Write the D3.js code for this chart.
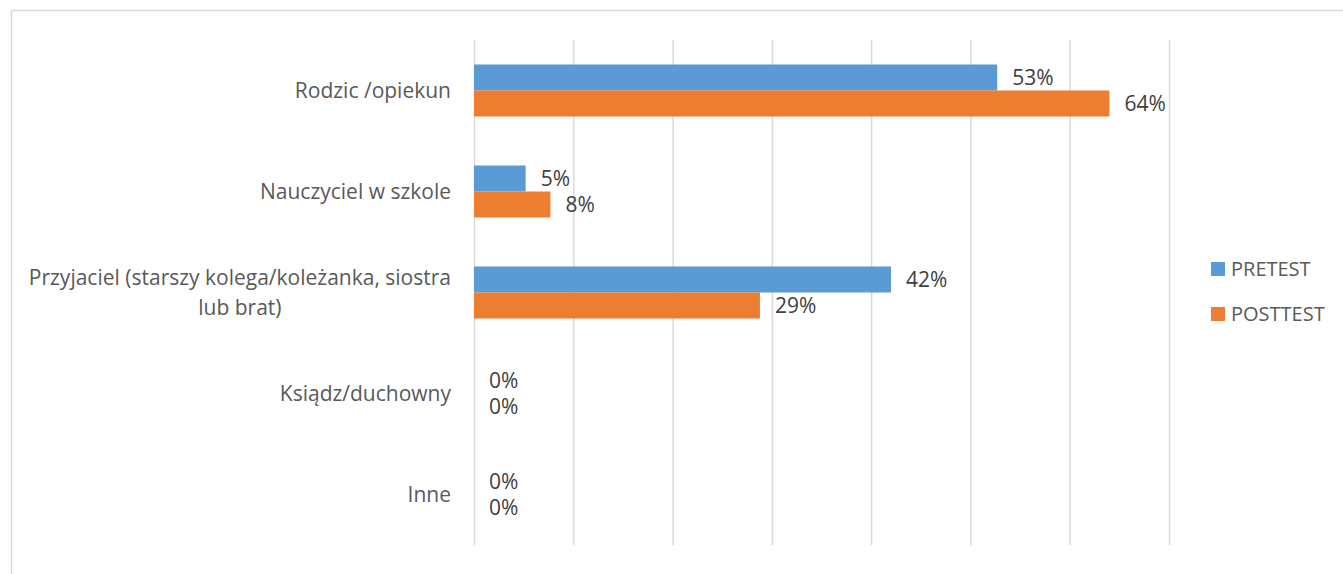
<!DOCTYPE html>
<html>
<head>
  <meta charset="utf-8">
  <title>Pretest / Posttest</title>
  <script src="https://d3js.org/d3.v7.min.js"></script>
  <style>
    body { margin: 0; background: #fff; }
    text { font-family: "Open Sans", sans-serif; }
  </style>
</head>
<body>
<script>
  var categories = ['Rodzic /opiekun', 'Nauczyciel w szkole', 'Przyjaciel (starszy kolega/koleżanka, siostra lub brat)', 'Ksiądz/duchowny', 'Inne'];
  var series = ['PRETEST', 'POSTTEST'];
  var pretest = [0.527, 0.052, 0.42, 0, 0];
  var posttest = [0.64, 0.077, 0.288, 0, 0];
  var xTicks = [0, 0.1, 0.2, 0.3, 0.4, 0.5, 0.6, 0.7];
  var colors = ['#5B9BD5', '#ED7D31'];

  var width = 1343;
  var height = 574;

  var svg = d3.select('body').append('svg').attr('width', width).attr('height', height);

  // outer frame
  svg.append('rect')
    .attr('x', 11.5).attr('y', 10.5)
    .attr('width', width).attr('height', height)
    .attr('fill', 'none').attr('stroke', '#d9d9d9').attr('stroke-width', 1.5);

  var x = d3.scaleLinear().domain([0, 0.7]).range([474, 1169]);

  var y = d3.scaleBand()
    .domain(categories)
    .range([40, 545])
    .paddingInner(0.485)
    .paddingOuter(0.2425);

  var ySub = d3.scaleBand().domain(series).range([0, y.bandwidth()]);

  // gridlines
  var grid = svg.append('g')
    .attr('transform', 'translate(0,545)')
    .call(d3.axisBottom(x).tickValues(xTicks).tickSize(-505).tickFormat(''));
  grid.select('.domain').remove();
  grid.selectAll('line').attr('stroke', '#d9d9d9').attr('stroke-width', 1.5);

  var rows = categories.map(function(c, i) {
    return { cat: c, values: [pretest[i], posttest[i]] };
  });

  var group = svg.selectAll('.cat')
    .data(rows)
    .enter().append('g')
    .attr('transform', function(d) { return 'translate(0,' + y(d.cat) + ')'; });

  group.selectAll('rect')
    .data(function(d) { return d.values.map(function(v, j) { return { s: series[j], v: v, j: j }; }); })
    .enter().append('rect')
    .attr('x', x(0))
    .attr('y', function(d) { return ySub(d.s); })
    .attr('width', function(d) { return x(d.v) - x(0); })
    .attr('height', ySub.bandwidth())
    .attr('fill', function(d) { return colors[d.j]; });

  group.selectAll('.lbl')
    .data(function(d) { return d.values.map(function(v, j) { return { s: series[j], v: v }; }); })
    .enter().append('text')
    .attr('x', function(d) { return x(d.v) + 15; })
    .attr('y', function(d) { return ySub(d.s) + ySub.bandwidth() / 2; })
    .attr('dy', '0.35em')
    .attr('font-size', 21)
    .attr('fill', '#404040')
    .text(function(d) { return Math.round(d.v * 100) + '%'; });

  // category labels, wrapped and centred as a block
  var labelRight = 451;
  var maxW = 430;
  categories.forEach(function(c) {
    var t = svg.append('text').attr('font-size', 21).attr('fill', '#595959');
    var words = c.split(' ');
    var lines = [];
    var line = [];
    var probe = t.append('tspan');
    words.forEach(function(w) {
      line.push(w);
      probe.text(line.join(' '));
      if (probe.node().getComputedTextLength() > maxW && line.length > 1) {
        line.pop();
        lines.push(line.join(' '));
        line = [w];
      }
    });
    lines.push(line.join(' '));
    var widths = lines.map(function(l) { probe.text(l); return probe.node().getComputedTextLength(); });
    probe.remove();
    var blockW = d3.max(widths);
    var cx = labelRight - blockW / 2;
    var lh = 30;
    var cy = y(c) + y.bandwidth() / 2 - (lines.length - 1) * lh / 2;
    t.attr('text-anchor', 'middle');
    lines.forEach(function(l, k) {
      t.append('tspan').attr('x', cx).attr('y', cy + k * lh).attr('dy', '0.35em').text(l);
    });
  });

  // legend
  var legend = svg.selectAll('.legend')
    .data(series)
    .enter().append('g')
    .attr('transform', function(d, i) { return 'translate(1211,' + (269 + i * 45) + ')'; });

  legend.append('rect')
    .attr('x', 0).attr('y', -7)
    .attr('width', 14).attr('height', 14)
    .attr('fill', function(d, i) { return colors[i]; });

  legend.append('text')
    .attr('x', 20).attr('y', 0).attr('dy', '0.35em')
    .attr('font-size', 20)
    .attr('fill', '#595959')
    .text(function(d) { return d; });
</script>
</body>
</html>
